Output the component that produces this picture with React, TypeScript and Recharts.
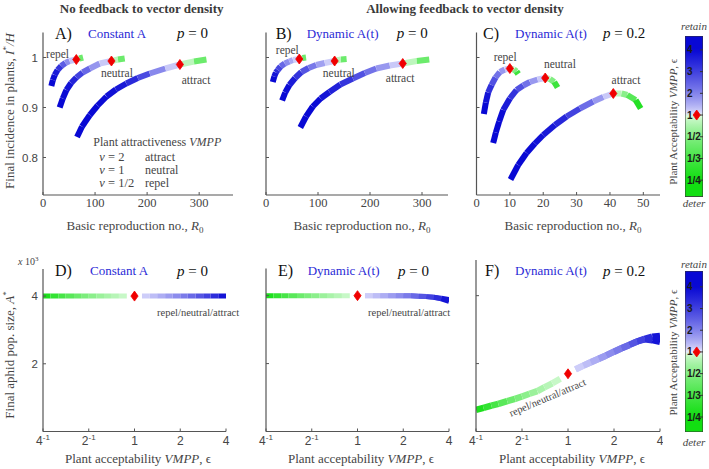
import React from 'react';
import { ComposedChart, Line, Scatter, XAxis, YAxis, ReferenceArea } from 'recharts';

const SERIF = '"Liberation Serif", "DejaVu Serif", serif';
const SANS = '"Liberation Sans", Arial, sans-serif';
const GRAY = '#454545';
const AXIS = '#555';
const RED = '#f00000';
const TITLE_BLUE = '#2a2ad6';

// ---------- Top row: each point is [epsilon (VMPP acceptability), R0, I*/H] ----------
const A_REPEL = [[4,16,0.943],[4,19,0.955],[3.8,22.5,0.965],[3.5,28,0.975],[3,35,0.983],[2.2,43,0.989],[1.6,51,0.993],[1,64,0.996],[0.6,70,0.998],[0.3,77,1.0]];
const A_NEUTRAL = [[4,32,0.900],[4,38,0.918],[3.9,45,0.935],[3.7,54,0.949],[3.3,64,0.960],[2.7,76,0.970],[2.1,90,0.978],[1.5,109,0.988],[1,131.5,0.993],[0.6,144,0.996],[0.3,157,0.998]];
const A_ATTRACT = [[4,65.4,0.841],[4,75,0.862],[4,90,0.885],[4,105,0.904],[3.9,122,0.922],[3.8,140,0.936],[3.6,160,0.948],[3.2,182,0.959],[2.5,205,0.968],[1.5,235,0.978],[1,263,0.986],[0.6,290,0.992],[0.3,314,0.996]];

const B_REPEL = [[4,13,0.951],[4,16,0.962],[3.6,19,0.970],[3.2,22.6,0.975],[2.7,28,0.982],[2.1,36,0.988],[1.7,45,0.992],[1.4,52,0.995],[1,64,0.997],[0.6,70,0.999],[0.3,77,1.0]];
const B_NEUTRAL = [[4,31,0.914],[4,37,0.930],[3.8,45,0.945],[3.5,56,0.959],[3,68,0.971],[2.4,82,0.979],[1.9,96.5,0.985],[1.4,113,0.989],[1,132,0.993],[0.6,144,0.996],[0.3,155,0.997]];
const B_ATTRACT = [[4,66,0.860],[4,77,0.882],[4,90,0.902],[3.9,105,0.918],[3.7,122,0.931],[3.4,143,0.946],[3,167,0.958],[2.5,190,0.969],[2,212,0.978],[1.5,238,0.984],[1,263,0.988],[0.6,290,0.993],[0.3,314,0.996]];

const C_REPEL = [[4,2.2,0.887],[4,2.8,0.910],[3.6,3.5,0.930],[3,4.5,0.945],[2.5,5.7,0.960],[2,7,0.971],[1.5,8.5,0.976],[1,10,0.978],[0.6,11.2,0.976],[0.4,12,0.972],[0.25,12.5,0.967]];
const C_NEUTRAL = [[4,5,0.829],[4,5.8,0.850],[4,6.8,0.872],[3.8,8,0.895],[3.5,10,0.918],[3,12,0.935],[2.5,14,0.944],[2,16,0.951],[1.5,18.3,0.956],[1,20.6,0.959],[0.6,22,0.957],[0.4,23.3,0.951],[0.25,24.3,0.940]];
const C_ATTRACT = [[4,10.2,0.756],[4,12.5,0.785],[4,15,0.809],[3.9,17.5,0.828],[3.8,20,0.845],[3.6,23.5,0.865],[3.3,27,0.882],[2.7,31,0.898],[2,35,0.912],[1.5,38,0.921],[1,41,0.928],[0.6,43.5,0.928],[0.45,45.2,0.925],[0.3,47.7,0.915],[0.25,49.2,0.898]];

const CURVE_NAMES = ['repel', 'neutral', 'attract'];
// label anchor positions [R0, I*/H]
const A_LABEL_POS = [[28,1.008],[142,0.969],[294,0.955]];
const B_LABEL_POS = [[41,1.015],[140,0.969],[258,0.960]];
const C_LABEL_POS = [[8.6,1.001],[25,0.987],[44.8,0.955]];

// ---------- Bottom row: epsilon grid and final aphid population A* ----------
const EPS_GREEN = [0.25,0.28,0.315,0.35,0.4,0.45,0.5,0.56,0.63,0.7,0.79,0.89];
const EPS_BLUE = [1.12,1.26,1.41,1.59,1.78,2,2.24,2.52,2.83,3.17,3.56,4];
const D_GREEN = [4000,4000,4000,4000,4000,4000,4000,4000,4000,4000,4000,4000];
const D_BLUE = [4000,4000,4000,4000,4000,4000,4000,4000,4000,4000,4000,4000];
const E_GREEN = [4000,4000,4000,4000,4000,4000,4000,4000,4000,4000,4000,4000];
const E_BLUE = [4000,4000,4000,4000,4000,3998,3994,3986,3972,3952,3922,3884];
const E_BLUE_FORK = [4000,4000,4000,4000,4000,3998,3994,3986,3972,3952,3905,3835];
const F_GREEN = [640,695,760,815,895,960,1030,1110,1190,1300,1420,1555];
const F_BLUE = [1830,1940,2040,2140,2240,2350,2450,2550,2650,2730,2790,2810];
const F_BLUE_FORK = [1830,1940,2040,2140,2240,2350,2450,2550,2650,2715,2690,2640];
const DIAMOND_EPS = 1;
const D_DIAMOND = 4000;
const E_DIAMOND = 4000;
const F_DIAMOND = 1700;

// ---------- Ticks ----------
const X_TICKS_AB = [0, 100, 200, 300];
const X_TICKS_C = [0, 10, 20, 30, 40, 50];
const Y_TICKS_TOP = [0.8, 0.9, 1];
const Y_TICKS_BOTTOM = [2000, 4000];
const EPS_TICKS = [0.25, 0.5, 1, 2, 4];
const EPS_TICK_BASE = ['4', '2', '1', '2', '4'];
const EPS_TICK_EXP = ['-1', '-1', '', '', ''];
const CB_U = [3, 2, 1, 0, -1, -2, -3];
const CB_LABELS = ['4', '3', '2', '1', '1/2', '1/3', '1/4'];

const PANEL_LETTERS = ['A)', 'B)', 'C)', 'D)', 'E)', 'F)'];
const PANEL_MODELS = ['Constant A', 'Dynamic A(t)', 'Dynamic A(t)', 'Constant A', 'Dynamic A(t)', 'Dynamic A(t)'];
const PANEL_P = ['0', '0', '0.2', '0', '0', '0.2'];

// ---------- colour mapping ----------
const BLUE_LIGHT = [238, 238, 255];
const BLUE_DARK = [8, 8, 212];
const GREEN_LIGHT = [230, 252, 230];
const GREEN_DARK = [18, 222, 18];
const GAMMA = 0.7;
function mix(a: number[], b: number[], t: number) {
  return `rgb(${a.map((v, i) => Math.round(v + (b[i] - v) * t)).join(',')})`;
}
function epsColor(e: number) {
  if (e >= 1) return mix(BLUE_LIGHT, BLUE_DARK, Math.pow(Math.min(1, (e - 1) / 3), GAMMA));
  return mix(GREEN_LIGHT, GREEN_DARK, Math.pow(Math.min(1, (1 / e - 1) / 3), GAMMA));
}

type Pt = { x: number; y: number; e: number };
type Seg = { data: { x: number; y: number }[]; color: string };
function toSegs(pts: Pt[]): Seg[] {
  const out: Seg[] = [];
  for (let i = 0; i < pts.length - 1; i++) {
    const a = pts[i], b = pts[i + 1];
    out.push({ data: [{ x: a.x, y: a.y }, { x: b.x, y: b.y }], color: epsColor(Math.sqrt(a.e * b.e)) });
  }
  return out;
}
const topPts = (c: number[][]): Pt[] => c.map(([e, r, i]) => ({ x: r, y: i, e }));
const botPts = (eps: number[], vals: number[]): Pt[] => eps.map((e, k) => ({ x: e, y: vals[k], e }));

// ---------- shapes & ticks ----------
const Diamond = (p: any) => {
  const { cx, cy } = p;
  if (cx == null || cy == null) return <g />;
  return <polygon points={`${cx},${cy - 5} ${cx + 3.6},${cy} ${cx},${cy + 5} ${cx - 3.6},${cy}`} fill={RED} stroke={RED} strokeWidth={0.8} strokeLinejoin="round" />;
};
const LabelShape = (p: any) => {
  const { cx, cy, payload } = p;
  if (cx == null) return <g />;
  return <text x={cx} y={cy + 4} textAnchor="middle" fontFamily={SERIF} fontSize={11.5} fill={GRAY}>{payload.label}</text>;
};

const makeYTick = (fmt: (v: number) => string, show: boolean) => (p: any) => {
  const { x, y, payload } = p;
  return (
    <g>
      <line x1={x + 5} x2={x + 8} y1={y} y2={y} stroke={AXIS} />
      {show && <text x={x} y={y + 4} textAnchor="end" fontFamily={SANS} fontSize={11.5} fill={GRAY}>{fmt(payload.value)}</text>}
    </g>
  );
};
const TopXTick = (p: any) => {
  const { x, y, payload } = p;
  return (
    <g>
      <line x1={x} x2={x} y1={y - 8} y2={y - 11} stroke={AXIS} />
      <text x={x} y={y + 4} textAnchor="middle" fontFamily={SERIF} fontSize={12.5} fill={GRAY}>{String(payload.value)}</text>
    </g>
  );
};
const EpsTick = (p: any) => {
  const { x, y, payload } = p;
  const i = EPS_TICKS.indexOf(payload.value);
  return (
    <g>
      <line x1={x} x2={x} y1={y - 9} y2={y - 12} stroke={AXIS} />
      <text x={x} y={y + 4} textAnchor="middle" fontFamily={SANS} fontSize={12} fill={GRAY}>
        {EPS_TICK_BASE[i]}
        {EPS_TICK_EXP[i] ? <tspan dy={-5} fontSize={8}>{EPS_TICK_EXP[i]}</tspan> : null}
      </text>
    </g>
  );
};

type PanelProps = {
  left: number; top: number; width: number; height: number;
  margin: { top: number; right: number; bottom: number; left: number };
  xDomain: [number, number]; xTicks: number[]; xLog?: boolean; xTick: any; xHeight: number; xMargin: number;
  yDomain: [number, number]; yTicks: number[]; yTick: any; yWidth: number;
  segs: Seg[]; lineWidth: number; diamonds: { x: number; y: number }[];
  labels?: { x: number; y: number; label: string }[];
};

function Panel(p: PanelProps) {
  return (
    <div style={{ position: 'absolute', left: p.left, top: p.top }}>
      <ComposedChart width={p.width} height={p.height} margin={p.margin}>
        <XAxis type="number" dataKey="x" domain={p.xDomain} ticks={p.xTicks} scale={p.xLog ? 'log' : 'auto'}
          allowDataOverflow interval={0} height={p.xHeight} tickSize={0} tickMargin={p.xMargin}
          tickLine={false} axisLine={{ stroke: AXIS, strokeWidth: 1.2 }} tick={p.xTick} />
        <YAxis type="number" dataKey="y" domain={p.yDomain} ticks={p.yTicks} allowDataOverflow interval={0}
          width={p.yWidth} tickSize={0} tickMargin={5} tickLine={false}
          axisLine={{ stroke: AXIS, strokeWidth: 1.2 }} tick={p.yTick} />
        {p.segs.map((s, i) => (
          <Line key={i} data={s.data} dataKey="y" type="linear" stroke={s.color} strokeWidth={p.lineWidth}
            strokeLinecap="butt" dot={false} activeDot={false} isAnimationActive={false} legendType="none" />
        ))}
        <Scatter data={p.diamonds} dataKey="y" shape={Diamond} isAnimationActive={false} legendType="none" />
        {p.labels && <Scatter data={p.labels} dataKey="y" shape={LabelShape} isAnimationActive={false} legendType="none" />}
      </ComposedChart>
    </div>
  );
}

function topPanelData(curves: number[][][], labelPos: number[][]) {
  const segs = curves.flatMap((c) => toSegs(topPts(c)));
  const diamonds = curves.map((c) => {
    const q = c.find((r) => r[0] === 1) as number[];
    return { x: q[1], y: q[2] };
  });
  const labels = labelPos.map(([x, y], i) => ({ x, y, label: CURVE_NAMES[i] }));
  return { segs, diamonds, labels };
}

const CB_W = 18;
function Colorbar({ left, top, height, uDomain, id }: { left: number; top: number; height: number; uDomain: [number, number]; id: string }) {
  const [uBot, uTop] = uDomain;
  const stopsU: number[] = [];
  for (let k = 0; k <= 40; k++) stopsU.push(uTop - ((uTop - uBot) * k) / 40);
  const uToEps = (u: number) => (u >= 0 ? u + 1 : 1 / (1 - u));
  const CbTick = (p: any) => {
    const { x, y, payload } = p;
    const i = CB_U.indexOf(payload.value);
    return (
      <g>
        <line x1={x - 2 + CB_W - 3} x2={x - 2 + CB_W} y1={y} y2={y} stroke="#333" />
        <text x={x} y={y + 3.5} textAnchor="start" fontFamily={SANS} fontWeight="bold" fontSize={10} fill="#1a1a1a">{CB_LABELS[i]}</text>
      </g>
    );
  };
  return (
    <div style={{ position: 'absolute', left, top }}>
      <ComposedChart width={CB_W} height={height} margin={{ top: 0, right: 0, bottom: 0, left: 0 }}>
        <defs>
          <linearGradient id={id} x1="0" y1="0" x2="0" y2="1">
            {stopsU.map((u, k) => (
              <stop key={k} offset={(uTop - u) / (uTop - uBot)} stopColor={epsColor(uToEps(u))} />
            ))}
          </linearGradient>
        </defs>
        <XAxis type="number" dataKey="x" domain={[0, 1]} hide allowDataOverflow />
        <ReferenceArea x1={0} x2={1} y1={uBot} y2={uTop} fill={`url(#${id})`} fillOpacity={1} stroke="#333" strokeWidth={1} ifOverflow="visible" />
        <YAxis type="number" dataKey="y" domain={uDomain} ticks={CB_U} allowDataOverflow interval={0} mirror
          width={30} tickSize={0} tickMargin={2} tickLine={false} axisLine={false} tick={CbTick} />
        <Scatter data={[{ x: 0.65, y: 0 }]} dataKey="y" shape={Diamond} isAnimationActive={false} legendType="none" />
      </ComposedChart>
    </div>
  );
}

function Overlay() {
  const letterX = [55, 275.7, 483, 55, 278, 485];
  const modelX = [88, 306.7, 515, 90, 307.7, 515];
  const pX = [177, 396.7, 603, 177, 398, 603];
  const rowY = [38.5, 38.5, 38.5, 276, 276, 276];
  const topXLabel = [135, 362, 573];
  const botXLabel = [138, 361, 572];
  const rd = (x: number, y: number, children: any, size = 13, key?: any) => (
    <text key={key} transform={`rotate(-90, ${x}, ${y})`} x={x} y={y} textAnchor="middle" fontFamily={SERIF} fontSize={size} fill={GRAY}>{children}</text>
  );
  return (
    <svg width={709} height={469} style={{ position: 'absolute', left: 0, top: 0, pointerEvents: 'none' }}>
      <text x={141.7} y={13} textAnchor="middle" fontFamily={SERIF} fontWeight="bold" fontSize={13} fill="#3a3a3a">No feedback to vector density</text>
      <text x={465} y={13} textAnchor="middle" fontFamily={SERIF} fontWeight="bold" fontSize={13} fill="#3a3a3a">Allowing feedback to vector density</text>
      {PANEL_LETTERS.map((l, i) => (
        <g key={i}>
          <text x={letterX[i]} y={rowY[i]} fontFamily={SERIF} fontSize={16} fill="#111">{l}</text>
          <text x={modelX[i]} y={rowY[i] - 1} fontFamily={SERIF} fontSize={13} fill={TITLE_BLUE}>{PANEL_MODELS[i]}</text>
          <text x={pX[i]} y={rowY[i] - 0.5} fontFamily={SERIF} fontSize={15} fill="#111">
            <tspan fontStyle="italic">p</tspan>{' = ' + PANEL_P[i]}
          </text>
        </g>
      ))}
      {topXLabel.map((x, i) => (
        <text key={'tx' + i} x={x} y={230} textAnchor="middle" fontFamily={SERIF} fontSize={13} fill={GRAY}>
          Basic reproduction no., <tspan fontStyle="italic">R</tspan><tspan dy={3} fontSize={9}>0</tspan>
        </text>
      ))}
      {botXLabel.map((x, i) => (
        <text key={'bx' + i} x={x} y={463} textAnchor="middle" fontFamily={SERIF} fontSize={13} fill={GRAY}>
          Plant acceptability <tspan fontStyle="italic">VMPP</tspan>, ϵ
        </text>
      ))}
      {rd(14, 111, <>Final incidence in plants, <tspan fontStyle="italic">I</tspan><tspan dy={-5} fontSize={9}>*</tspan><tspan dy={5} fontStyle="italic">/H</tspan></>)}
      {rd(14, 355, <>Final aphid pop. size, <tspan fontStyle="italic">A</tspan><tspan dy={-5} fontSize={9}>*</tspan></>)}
      <text x={18} y={265} fontFamily={SERIF} fontSize={10} fill={GRAY}><tspan fontStyle="italic">x</tspan> 10<tspan dy={-4} fontSize={7}>3</tspan></text>
      {/* legend in A */}
      <text x={93.3} y={145.5} fontFamily={SERIF} fontSize={12} fill={GRAY}>Plant attractiveness <tspan fontStyle="italic">VMPP</tspan></text>
      {[['2', 'attract'], ['1', 'neutral'], ['1/2', 'repel']].map(([v, n], i) => (
        <g key={'lg' + i}>
          <text x={99.3} y={160.5 + i * 13} fontFamily={SERIF} fontSize={12.5} fill={GRAY}><tspan fontStyle="italic">ν</tspan>{' = ' + v}</text>
          <text x={145} y={160.5 + i * 13} fontFamily={SERIF} fontSize={12} fill={GRAY}>{n}</text>
        </g>
      ))}
      {/* bottom annotations */}
      <text x={157} y={315.5} fontFamily={SERIF} fontSize={10.5} fill={GRAY}>repel/neutral/attract</text>
      <text x={368} y={315.5} fontFamily={SERIF} fontSize={10.5} fill={GRAY}>repel/neutral/attract</text>
      <text transform="rotate(-23, 547.5, 397.5)" x={547.5} y={401} textAnchor="middle" fontFamily={SERIF} fontSize={10.5} fill={GRAY}>repel/neutral/attract</text>
      {/* colourbar labels */}
      {[121.7, 352.5].map((y, i) => rd(677, y, <>Plant Acceptability <tspan fontStyle="italic">VMPP</tspan>, ϵ</>, 11, 'cb' + i))}
      <text x={694} y={30} textAnchor="middle" fontFamily={SERIF} fontStyle="italic" fontSize={11} fill={GRAY}>retain</text>
      <text x={694} y={207} textAnchor="middle" fontFamily={SERIF} fontStyle="italic" fontSize={11} fill={GRAY}>deter</text>
      <text x={694} y={267.5} textAnchor="middle" fontFamily={SERIF} fontStyle="italic" fontSize={11} fill={GRAY}>retain</text>
      <text x={694} y={446} textAnchor="middle" fontFamily={SERIF} fontStyle="italic" fontSize={11} fill={GRAY}>deter</text>
    </svg>
  );
}

export default function App() {
  const a = topPanelData([A_REPEL, A_NEUTRAL, A_ATTRACT], A_LABEL_POS);
  const b = topPanelData([B_REPEL, B_NEUTRAL, B_ATTRACT], B_LABEL_POS);
  const c = topPanelData([C_REPEL, C_NEUTRAL, C_ATTRACT], C_LABEL_POS);
  const topY = { yDomain: [0.725, 1.05] as [number, number], yTicks: Y_TICKS_TOP };
  const fmtTop = (v: number) => (v === 1 ? '1' : v.toFixed(1));
  const fmtBot = (v: number) => String(v / 1000);

  const dSegs = [...toSegs(botPts(EPS_GREEN, D_GREEN)), ...toSegs(botPts(EPS_BLUE, D_BLUE))];
  const eSegs = [...toSegs(botPts(EPS_GREEN, E_GREEN)), ...toSegs(botPts(EPS_BLUE, E_BLUE_FORK)), ...toSegs(botPts(EPS_BLUE, E_BLUE))];
  const fSegs = [...toSegs(botPts(EPS_GREEN, F_GREEN)), ...toSegs(botPts(EPS_BLUE, F_BLUE_FORK)), ...toSegs(botPts(EPS_BLUE, F_BLUE))];

  return (
    <div style={{ position: 'absolute', left: 0, top: 0, width: 709, height: 469, background: '#fff', overflow: 'hidden' }}>
      <Panel left={0} top={0} width={240} height={230} margin={{ top: 32.5, right: 7, bottom: 0, left: 0 }}
        xDomain={[0, 365]} xTicks={X_TICKS_AB} xTick={TopXTick} xHeight={35} xMargin={8}
        {...topY} yTick={makeYTick(fmtTop, true)} yWidth={43} segs={a.segs} lineWidth={6} diamonds={a.diamonds} labels={a.labels} />
      <Panel left={223} top={0} width={230} height={230} margin={{ top: 32.5, right: 5, bottom: 0, left: 0 }}
        xDomain={[0, 350]} xTicks={X_TICKS_AB} xTick={TopXTick} xHeight={35} xMargin={8}
        {...topY} yTick={makeYTick(fmtTop, false)} yWidth={43} segs={b.segs} lineWidth={6} diamonds={b.diamonds} labels={b.labels} />
      <Panel left={433} top={0} width={230} height={230} margin={{ top: 32.5, right: 3, bottom: 0, left: 0 }}
        xDomain={[0, 55]} xTicks={X_TICKS_C} xTick={TopXTick} xHeight={35} xMargin={8}
        {...topY} yTick={makeYTick(fmtTop, false)} yWidth={43.5} segs={c.segs} lineWidth={6} diamonds={c.diamonds} labels={c.labels} />

      <Panel left={0} top={230} width={240} height={230} margin={{ top: 39, right: 14, bottom: 0, left: 0 }}
        xDomain={[0.25, 4]} xTicks={EPS_TICKS} xLog xTick={EpsTick} xHeight={28.5} xMargin={9}
        yDomain={[0, 4800]} yTicks={Y_TICKS_BOTTOM} yTick={makeYTick(fmtBot, true)} yWidth={43}
        segs={dSegs} lineWidth={5} diamonds={[{ x: DIAMOND_EPS, y: D_DIAMOND }]} />
      <Panel left={223} top={230} width={230} height={230} margin={{ top: 38.5, right: 4, bottom: 0, left: 0 }}
        xDomain={[0.25, 4]} xTicks={EPS_TICKS} xLog xTick={EpsTick} xHeight={28.5} xMargin={9}
        yDomain={[0, 4800]} yTicks={Y_TICKS_BOTTOM} yTick={makeYTick(fmtBot, false)} yWidth={43}
        segs={eSegs} lineWidth={5} diamonds={[{ x: DIAMOND_EPS, y: E_DIAMOND }]} />
      <Panel left={433} top={230} width={230} height={230} margin={{ top: 30, right: 3, bottom: 0, left: 0 }}
        xDomain={[0.25, 4]} xTicks={EPS_TICKS} xLog xTick={EpsTick} xHeight={28.5} xMargin={9}
        yDomain={[0, 5050]} yTicks={Y_TICKS_BOTTOM} yTick={makeYTick(fmtBot, false)} yWidth={43}
        segs={fSegs} lineWidth={6.5} diamonds={[{ x: DIAMOND_EPS, y: F_DIAMOND }]} />

      <Colorbar left={685} top={36} height={160.7} uDomain={[-3.76, 3.64]} id="cbTop" />
      <Colorbar left={685} top={270.7} height={161} uDomain={[-3.69, 3.73]} id="cbBot" />
      <Overlay />
    </div>
  );
}
